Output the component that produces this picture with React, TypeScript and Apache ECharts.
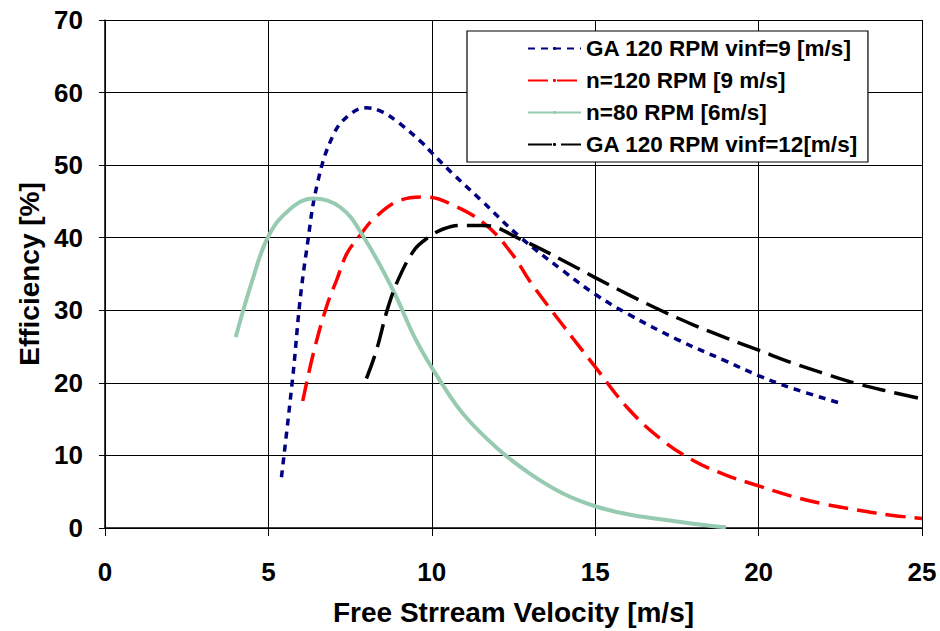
import React, { useEffect, useRef } from "react";
import * as echarts from "echarts";

const seriesNames = [
  "GA 120 RPM vinf=9 [m/s]",
  "n=120 RPM [9 m/s]",
  "n=80 RPM [6m/s]",
  "GA 120 RPM vinf=12[m/s]",
];

const gaVinf9: [number, number][] = [
  [5.4, 7], [5.75, 21], [5.96, 31], [6.16, 38], [6.5, 47.5], [7.0, 54.3], [7.5, 57],
  [8.0, 57.9], [8.5, 57.3], [9.0, 55.8], [9.7, 53.1], [10.0, 51.7], [10.6, 49],
  [11.5, 45.2], [12.7, 40.1], [14, 35.5], [15, 32.2], [16, 29.5], [17.5, 26],
  [19, 23], [20, 21], [21, 19.3], [22.5, 17.2],
];

const n120: [number, number][] = [
  [6.05, 17.5], [6.4, 24.5], [6.8, 30.8], [7.1, 34.3], [7.4, 37.8], [7.8, 40.3],
  [8.2, 42.5], [9.0, 45.1], [9.8, 45.6], [10.7, 44.4], [11.7, 41.6], [12.5, 37.5],
  [13, 34], [14, 28], [15, 22.2], [16, 16.5], [17, 12.3], [18, 9.3], [19, 7.3],
  [20, 5.8], [21, 4.4], [22, 3.3], [23, 2.5], [24, 1.8], [25, 1.3],
];

const n80: [number, number][] = [
  [4.0, 26.3], [4.5, 34], [5.0, 40.2], [5.65, 43.9], [6.37, 45.4], [7.2, 44.2],
  [7.9, 40.2], [8.8, 32.9], [9.54, 25.7], [10.35, 19.6], [11, 15.5], [12, 11],
  [13, 7.5], [14, 4.8], [15, 3], [16, 1.9], [17, 1.2], [18, 0.6], [19, 0.1],
];

const gaVinf12: [number, number][] = [
  [8.0, 20.6], [8.3, 24.4], [8.66, 30.4], [9.0, 34.5], [9.48, 38.4], [9.88, 40],
  [10.35, 41.2], [10.85, 41.7], [11.57, 41.7], [12.8, 39.6], [14, 36.9], [15, 34.5],
  [16, 32.2], [17, 30], [18, 28], [19, 26.2], [20, 24.5], [21, 22.8], [22, 21.3],
  [23, 19.9], [24, 18.8], [25, 17.8],
];

const FONT = "Liberation Sans, Arial, sans-serif";

export default function App() {
  const ref = useRef<HTMLDivElement>(null);
  useEffect(() => {
    if (!ref.current) return;
    const chart = echarts.init(ref.current, undefined, { renderer: "svg" });
    const mk = (name: string, data: [number, number][], color: string, width: number, dash: any) => ({
      name,
      type: "line",
      data,
      smooth: 0.4,
      showSymbol: false,
      symbol: "none",
      lineStyle: { color, width, type: dash },
      itemStyle: { color },
    });
    chart.setOption({
      animation: false,
      backgroundColor: "#ffffff",
      grid: { left: 105, right: 18, top: 20, bottom: 101, containLabel: false },
      legend: {
        orient: "vertical",
        left: 467,
        top: 31,
        width: 448,
        height: 126,
        padding: [6, 10, 6, 60],
        itemGap: 9,
        itemWidth: 53,
        itemHeight: 4,
        backgroundColor: "#ffffff",
        borderColor: "#000000",
        borderWidth: 1.2,
        textStyle: { fontFamily: FONT, fontWeight: "bold", fontSize: 22.5, lineHeight: 23, color: "#000" },
        data: seriesNames,
      },
      xAxis: {
        type: "value",
        min: 0,
        max: 25,
        interval: 5,
        name: "Free Strream Velocity [m/s]",
        nameLocation: "middle",
        nameGap: 70,
        nameTextStyle: { fontFamily: FONT, fontWeight: "bold", fontSize: 28, color: "#000" },
        axisLine: { lineStyle: { color: "#000", width: 1.5 } },
        axisTick: { show: true, inside: false, length: 8, lineStyle: { color: "#000" } },
        axisLabel: { margin: 31, fontFamily: FONT, fontWeight: "bold", fontSize: 26, color: "#000" },
        splitLine: { show: true, lineStyle: { color: "#000", width: 1 } },
      },
      yAxis: {
        type: "value",
        min: 0,
        max: 70,
        interval: 10,
        name: "Efficiency [%]",
        nameLocation: "middle",
        nameGap: 61,
        nameTextStyle: { fontFamily: FONT, fontWeight: "bold", fontSize: 28, color: "#000" },
        axisLine: { show: true, lineStyle: { color: "#000", width: 1.5 } },
        axisTick: { show: true, inside: false, length: 6, lineStyle: { color: "#000" } },
        axisLabel: { margin: 22, fontFamily: FONT, fontWeight: "bold", fontSize: 26, color: "#000" },
        splitLine: { show: true, lineStyle: { color: "#000", width: 1 } },
      },
      series: [
        mk(seriesNames[0], gaVinf9, "#000080", 3.5, [7, 6]),
        mk(seriesNames[1], n120, "#ff0000", 3.5, [20, 9]),
        mk(seriesNames[2], n80, "#96cbb2", 4, "solid"),
        mk(seriesNames[3], gaVinf12, "#000000", 3.5, [24, 9]),
      ],
    });
    return () => chart.dispose();
  }, []);
  return <div ref={ref} style={{ width: 940, height: 631, position: "absolute", left: 0, top: 0 }} />;
}
